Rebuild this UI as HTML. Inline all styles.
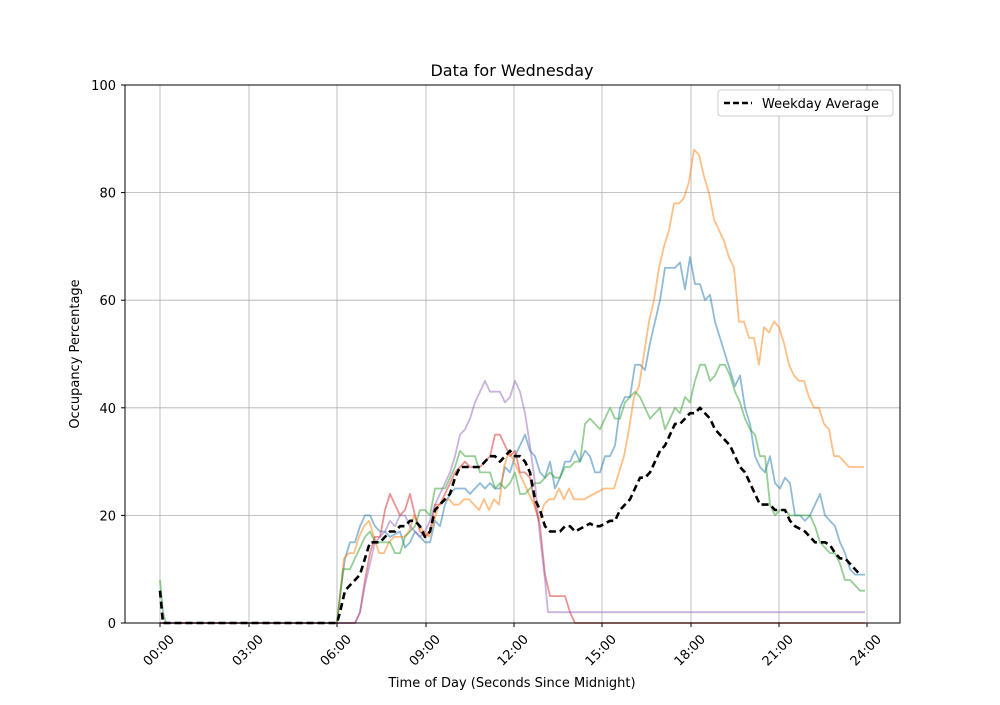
<!DOCTYPE html>
<html><head><meta charset="utf-8"><style>
body{margin:0;background:#fff;}
svg text{font-family:"DejaVu Sans","Liberation Sans",sans-serif;}
</style></head><body>
<svg id="s" width="1000" height="700" xmlns="http://www.w3.org/2000/svg">
<rect width="1000" height="700" fill="#fff"/>
<g id="grid" stroke="#b0b0b0" stroke-width="0.8"></g>
<g id="series" fill="none" stroke-width="1.8" stroke-linejoin="round"></g>
<rect x="125" y="85" width="775" height="538" fill="none" stroke="#000" stroke-width="1"/>
<g id="ticks" font-size="13"></g>
<text x="512" y="76" font-size="16" text-anchor="middle">Data for Wednesday</text>
<text x="512" y="687" font-size="13" text-anchor="middle">Time of Day (Seconds Since Midnight)</text>
<text transform="translate(79,354) rotate(-90)" font-size="13" text-anchor="middle">Occupancy Percentage</text>
<rect x="718" y="90" width="175" height="26" rx="3" fill="#fff" stroke="#ccc" stroke-width="1"/>
<line x1="724" y1="103" x2="752" y2="103" stroke="#000" stroke-width="2.5" stroke-dasharray="6,3"/>
<text x="762" y="108" font-size="13">Weekday Average</text>
</svg>
<script>
var NS="http://www.w3.org/2000/svg";
function el(t,a,p){var e=document.createElementNS(NS,t);for(var k in a)e.setAttribute(k,a[k]);p.appendChild(e);return e;}
var grid=document.getElementById('grid'),ticks=document.getElementById('ticks'),ser=document.getElementById('series');
var xt=[160,249,337,426,514,602,691,779,867],xl=["00:00","03:00","06:00","09:00","12:00","15:00","18:00","21:00","24:00"];
xt.forEach(function(x,i){el('line',{x1:x,y1:85,x2:x,y2:623},grid);el('line',{x1:x,y1:623,x2:x,y2:627,stroke:'#000'},ticks);
var t=el('text',{x:0,y:0,'text-anchor':'end',transform:'translate('+(x+15)+',640) rotate(-45)'},ticks);t.textContent=xl[i];});
for(var v=0;v<=100;v+=20){var y=623-5.38*v;el('line',{x1:125,y1:y,x2:900,y2:y},grid);el('line',{x1:121,y1:y,x2:125,y2:y,stroke:'#000'},ticks);
var t=el('text',{x:116,y:y+5,'text-anchor':'end'},ticks);t.textContent=v;}
function Y(v){return 623-5.38*v;}
function line(d,c,extra){var p=[];for(var i=0;i<d.length;i+=2)p.push(d[i]+','+Y(d[i+1]).toFixed(1));var a={points:p.join(' '),stroke:c};for(var k in extra)a[k]=extra[k];el('polyline',a,ser);}
var op={'stroke-opacity':0.5};
var blue=[160,0,337,0,340,5,345,12,350,15,355,15,360,18,365,20,370,20,375,18,380,17,385,17,390,16,400,17,405,14,410,15,415,17,420,16,425,15,430,15,435,19,440,18,445,22,450,24,455,25,460,25,465,25,470,24,475,25,480,26,485,25,490,26,495,25,500,25,505,29,510,28,515,31,520,33,525,35,530,32,535,31,540,28,545,27,550,30,555,25,560,27,565,30,570,30,575,32,580,30,585,32,590,31,595,28,600,28,605,31,610,31,615,33,620,40,625,42,630,42,635,48,640,48,645,47,650,52,655,56,660,60,665,66,670,66,675,66,680,67,685,62,690,68,695,63,700,63,705,60,710,61,715,56,720,53,725,50,730,47,735,44,740,46,745,40,750,37,755,31,760,29,765,28,770,31,775,26,780,25,785,27,790,26,795,20,800,20,805,19,810,20,815,22,820,24,825,20,830,19,835,18,840,15,845,13,850,10,855,9,865,9];
var orange=[160,0,337,0,340,5,344,12,349,13,354,13,359,16,364,18,369,19,374,16,379,13,384,13,389,15,394,16,399,16,404,16,409,17,414,20,419,18,424,17,429,16,434,19,439,22,444,23,449,23,454,22,459,22,464,23,469,23,474,22,479,21,484,23,489,21,494,23,499,22,504,29,509,32,514,30,519,28,524,26,529,24,534,22,539,19,544,22,549,23,554,23,559,25,564,23,569,25,574,23,579,23,584,23,589,23.5,594,24,599,24.5,604,25,609,25,614,25,619,28,624,31,629,36,634,42,639,44,644,50,649,56,654,60,659,66,664,70,669,73,674,78,679,78,684,79,689,82,694,88,699,87,704,83,709,80,714,75,719,73,724,71,729,68,734,66,739,56,744,56,749,53,754,53,759,48,764,55,769,54,774,56,779,55,784,52,789,48,794,46,799,45,804,45,809,42,814,40,819,40,824,37,829,36,834,31,839,31,844,30,849,29,854,29,864,29];
var green=[160,8,163,2,166,0,337,0,340,5,343,10,350,10,355,12,360,14,365,16,370,17,375,15,380,15,385,15,390,15,395,13,400,13,405,16,410,17,415,18,420,21,425,21,430,20,435,25,440,25,445,25,450,27,455,29,460,32,465,31,470,31,475,31,480,28,485,28,490,28,495,25,500,26,505,25,510,26,515,28,520,24,525,24,530,25,535,26,540,26,545,27,550,28,555,27,560,27,565,29,570,29,575,30,580,30,585,37,590,38,595,37,600,36,605,38,610,40,615,38,620,38,625,41,630,42,635,43,640,42,645,40,650,38,655,39,660,40,665,36,670,38,675,40,680,39,685,42,690,41,695,45,700,48,705,48,710,45,715,46,720,48,725,48,730,46,735,43,740,41,745,38,750,36,755,35,760,31,765,31,770,22,775,20,780,21,785,21,790,20,795,20,800,20,805,20,810,20,815,18,820,15,825,14,830,13,835,13,840,11,845,8,850,8,855,7,860,6,865,6];
var red=[160,0,355,0,360,2,365,8,370,13,375,16,380,16,385,21,390,24,395,22,400,20,405,21,410,24,415,20,420,17,425,16,430,17,435,22,440,22,445,24,450,26,455,28,460,29,465,30,470,29,475,29,480,29,485,30,490,31,495,35,500,35,505,33,510,31,515,32,520,28,525,28,530,27,535,22,540,18,545,9,550,5,555,5,560,5,565,5,570,2,575,0,865,0];
var purple=[160,0,355,0,360,2,365,7,370,11,375,15,380,16,385,17,390,19,395,18,400,20,405,20,410,18,415,17,420,16,425,17,430,19,435,22,440,24,445,26,450,28,455,31,460,35,465,36,470,38,475,41,480,43,485,45,490,43,495,43,500,43,505,41,510,42,515,45,520,43,525,39,530,33,535,26,540,16,545,8,548,2,865,2];
var avg=[160,6,163,0,337,0,340,2,345,6,350,7,355,8,360,9,365,12,370,15,375,15,380,15,385,16,390,17,395,17,400,18,405,18,410,19,415,19,420,18,425,16,430,17,435,21,440,22,445,23,450,24,455,27,460,29,465,29,470,29,475,29,480,29,485,30,490,31,495,31,500,30,505,31,510,32,515,31,520,31,525,30,530,28,535,23,540,21,545,18,550,17,555,17,560,17,565,18,570,18,575,17,580,17.5,585,18,590,18.5,595,18,600,18,605,18.5,610,19,615,19,620,21,625,22,630,23,635,25,640,27,645,27,650,28,655,30,660,32,665,33,670,35,675,37,680,37,685,38,690,39,695,39,700,40,705,39,710,38,715,36,720,35,725,34,730,33,735,31,740,29,745,28,750,26,755,24,760,22,765,22,770,22,775,21,780,21,785,21,790,19,795,18,800,17.5,805,17,810,16,815,15,820,15,825,15,830,14.5,835,13,840,12,845,12,850,11,855,10,860,9];
line(blue,'#1f77b4',op);line(orange,'#ff7f0e',op);line(green,'#2ca02c',op);line(red,'#d62728',op);line(purple,'#9467bd',op);
line(avg,'#000',{'stroke-width':2.6,'stroke-dasharray':'7,4'});
</script>
</body></html>
